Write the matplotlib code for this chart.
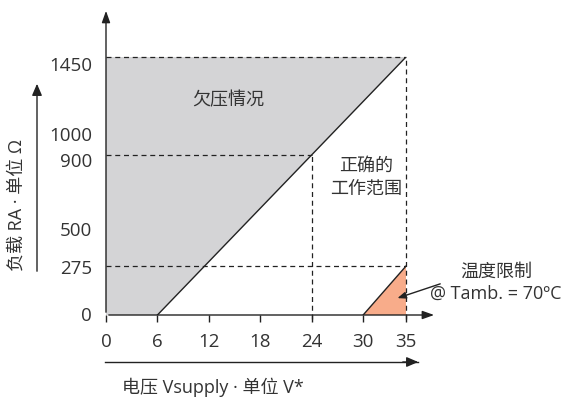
import numpy as np
import matplotlib
matplotlib.use("Agg")
import matplotlib.pyplot as plt
from matplotlib.transforms import ScaledTranslation

plt.rcParams['font.family'] = ['Open Sans', 'Noto Sans CJK SC', 'DejaVu Sans']

# data
x_ticks = [0, 6, 12, 18, 24, 30, 35]
y_ticks = [0, 275, 500, 900, 1000, 1450]
y_label_shift = [2, 0, -2, -4, 4, -6]   # px nudges of tick labels
v_min, v_max = 6, 35          # boundary line: R = 0 at 6 V, 1450 at 35 V
r_max = 1450
v_mid, r_mid = 24, 900
r_temp = 275
temp_v = [30, 35, 35]
temp_r = [0, 275, 0]

line_c = '#222222'
text_c = '#333333'
gray = '#d4d4d6'
orange = '#f8ac8a'
fs = 13
fs_tick = 13.5

W, H = 565, 402
fig = plt.figure(figsize=(W / 100, H / 100), dpi=100)
ax = fig.add_axes([106 / W, (H - 316) / H, 300 / W, 258 / H])
ax.set_xlim(0, 35)
ax.set_ylim(0, 1450)

# undervoltage region (above boundary line)
vx = np.array([0, v_min, v_max, 0])
ry = np.array([0, 0, r_max, r_max])
ax.fill(vx, ry, color=gray, lw=0, zorder=1)
ax.plot([v_min, v_max], [0, r_max], color=line_c, lw=1, zorder=3)

# temperature limited triangle
ax.fill(temp_v, temp_r, color=orange, lw=0, zorder=2)
ax.plot(temp_v[:2], temp_r[:2], color=line_c, lw=1, zorder=3)

dash = dict(color=line_c, lw=0.9, ls=(0, (4, 3)), zorder=3, clip_on=False)
ax.plot([0, v_max], [r_max, r_max], **dash)
ax.plot([v_max, v_max], [-25, r_max], **dash)
ax.plot([0, v_mid], [r_mid, r_mid], **dash)
ax.plot([v_mid, v_mid], [-25, r_mid], **dash)
ax.plot([0, v_max], [r_temp, r_temp], **dash)

# axes with arrows
for s in ax.spines.values():
    s.set_visible(False)
ax.annotate('', xy=(38.6, 0), xytext=(0, 0), xycoords='data',
            arrowprops=dict(arrowstyle='-|>,head_width=0.25,head_length=0.7',
                            color=line_c, lw=1), annotation_clip=False)
ax.annotate('', xy=(0, 1725), xytext=(0, 0), xycoords='data',
            arrowprops=dict(arrowstyle='-|>,head_width=0.25,head_length=0.7',
                            color=line_c, lw=1), annotation_clip=False)

ax.set_xticks(x_ticks)
ax.set_yticks(y_ticks)
ax.tick_params(axis='x', length=5, width=1, color=line_c, pad=7,
               labelsize=fs_tick, labelcolor=text_c)
ax.tick_params(axis='y', length=0, pad=10, labelsize=fs_tick, labelcolor=text_c)
for lab, dy in zip(ax.get_yticklabels(), y_label_shift):
    lab.set_transform(lab.get_transform() +
                      ScaledTranslation(0, dy / 100, fig.dpi_scale_trans))
ax.set_axisbelow(False)

# region labels
ax.text(14.2, 1215, '欠压情况', ha='center', va='center', fontsize=fs, color=text_c)
ax.text(30.4, 780, '正确的\n工作范围', ha='center', va='center', fontsize=fs,
        color=text_c, linespacing=1.3)
ax.text(45.5, 185, '温度限制\n@ Tamb. = 70ºC', ha='center', va='center',
        fontsize=fs, color=text_c, linespacing=1.3, clip_on=False)
ax.annotate('', xy=(33.7, 90), xytext=(39.3, 180),
            arrowprops=dict(arrowstyle='-|>,head_width=0.2,head_length=0.5',
                            color=line_c, lw=1), annotation_clip=False)

# axis titles with their own arrows
fig.add_artist(plt.Line2D([105 / W, 418 / W], [1 - 363 / H] * 2, color=line_c, lw=1))
fig.patches.append(matplotlib.patches.FancyArrowPatch(
    (400 / W, 1 - 363 / H), (421 / W, 1 - 363 / H), transform=fig.transFigure,
    arrowstyle='-|>,head_width=3,head_length=7', color=line_c, lw=1))
fig.text(122 / W, 1 - 387 / H, '电压 Vsupply · 单位 V*', ha='left', va='center',
         fontsize=fs, color=text_c)

fig.patches.append(matplotlib.patches.FancyArrowPatch(
    (37 / W, 1 - 275 / H), (37 / W, 1 - 82 / H), transform=fig.transFigure,
    arrowstyle='-|>,head_width=3,head_length=7', color=line_c, lw=1))
fig.text(17 / W, 1 - 205 / H, '负载 RA · 单位 Ω', ha='center', va='center',
         rotation=90, fontsize=fs, color=text_c)

fig.savefig('out.png', dpi=100)
